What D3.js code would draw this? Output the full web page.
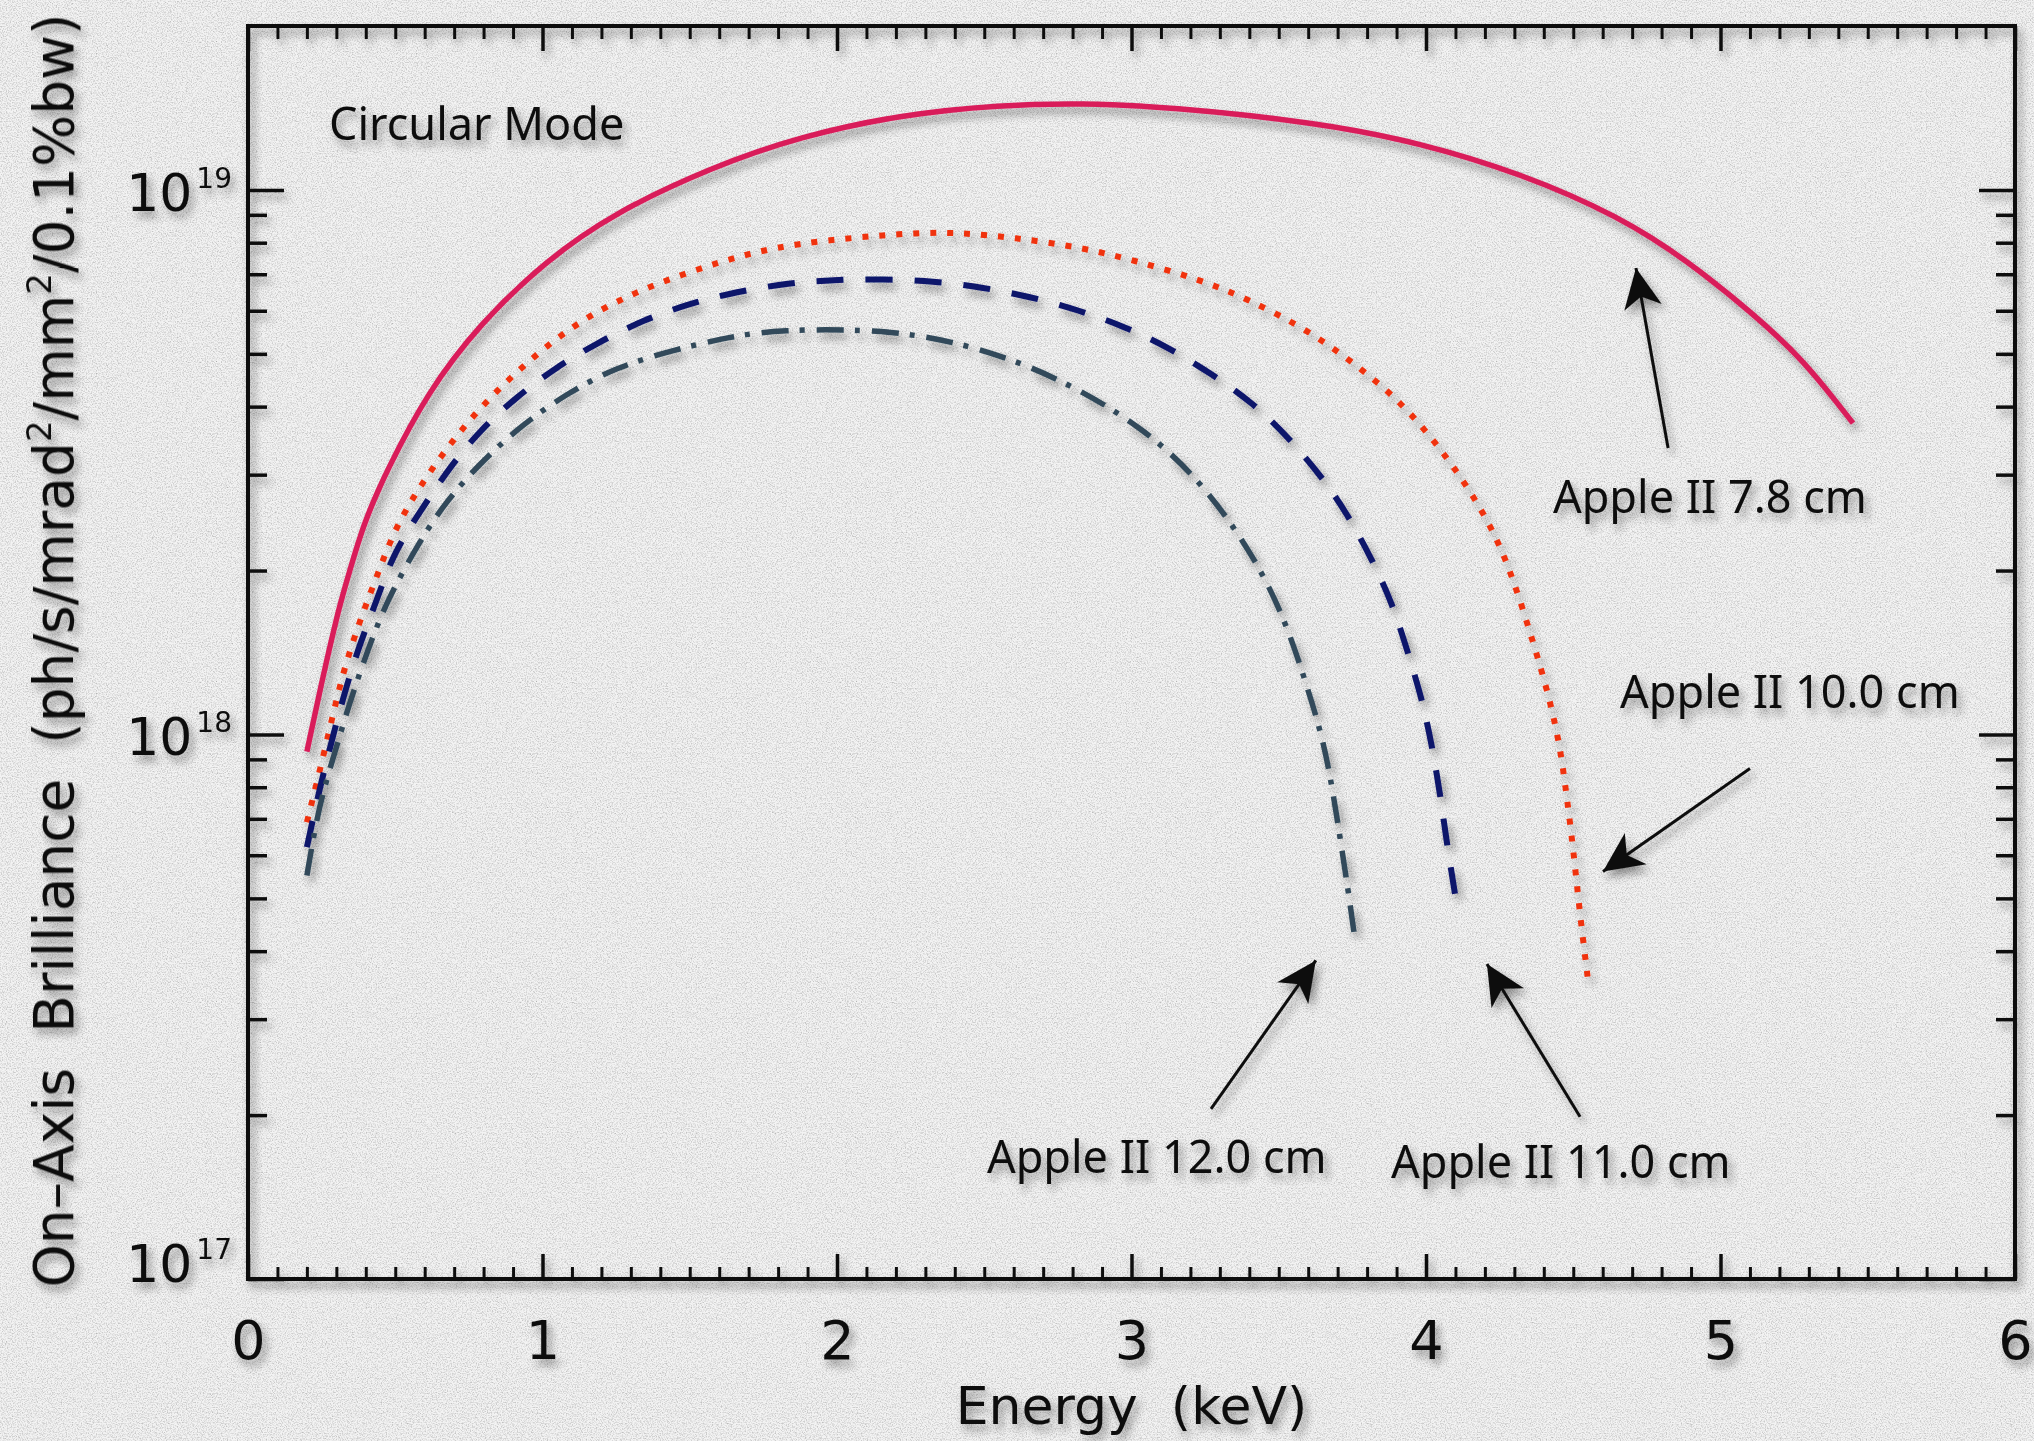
<!DOCTYPE html>
<html>
<head>
<meta charset="utf-8">
<script src="https://cdn.jsdelivr.net/npm/d3@7"></script>
<style>
  html, body { margin: 0; padding: 0; background: #ececec; }
  svg { display: block; }
</style>
</head>
<body>
<svg id="chart" width="2034" height="1441"></svg>
<script>
// ---- Data: on-axis brilliance of APPLE II undulators, circular mode ----
const seriesNames = ["Apple II 7.8 cm", "Apple II 10.0 cm", "Apple II 11.0 cm", "Apple II 12.0 cm"];

const energy78 = [0.2, 0.256, 0.307, 0.324, 0.391, 0.471, 0.607, 0.788, 1.014, 1.240, 1.580, 1.874, 2.214, 2.554, 2.835, 3.120, 3.640, 3.980, 4.319, 4.659, 4.885, 5.111, 5.281, 5.406, 5.450];
const bril78   = [9.3e17, 1.29e18, 1.69e18, 1.82e18, 2.44e18, 3.05e18, 4.23e18, 5.69e18, 7.43e18, 9.06e18, 1.104e19, 1.253e19, 1.374e19, 1.433e19, 1.443e19, 1.422e19, 1.328e19, 1.22e19, 1.074e19, 8.93e18, 7.43e18, 5.93e18, 4.87e18, 4.0e18, 3.73e18];

const energy100 = [0.2, 0.244, 0.284, 0.324, 0.380, 0.442, 0.505, 0.629, 0.777, 0.946, 1.127, 1.337, 1.614, 1.840, 2.248, 2.418, 2.599, 2.836, 3.006, 3.227, 3.391, 3.600, 3.787, 3.923, 4.036, 4.138, 4.229, 4.297, 4.365, 4.415, 4.455, 4.478, 4.500, 4.523, 4.551];
const bril100   = [6.9e17, 8.59e17, 1.06e18, 1.31e18, 1.62e18, 1.98e18, 2.44e18, 3.12e18, 3.94e18, 4.83e18, 5.77e18, 6.59e18, 7.43e18, 7.98e18, 8.35e18, 8.35e18, 8.18e18, 7.83e18, 7.43e18, 6.86e18, 6.32e18, 5.53e18, 4.67e18, 4.03e18, 3.42e18, 2.87e18, 2.37e18, 1.93e18, 1.47e18, 1.19e18, 9.55e17, 7.68e17, 6.17e17, 4.65e17, 3.51e17];

const energy110 = [0.2, 0.244, 0.290, 0.329, 0.380, 0.442, 0.493, 0.595, 0.686, 0.788, 0.912, 1.048, 1.184, 1.342, 1.501, 1.659, 1.829, 1.987, 2.157, 2.327, 2.491, 2.655, 2.819, 2.978, 3.131, 3.278, 3.408, 3.532, 3.651, 3.731, 3.816, 3.884, 3.934, 3.985, 4.019, 4.048, 4.070, 4.104];
const bril110   = [6.21e17, 8.0e17, 1.0e18, 1.2e18, 1.47e18, 1.79e18, 2.15e18, 2.62e18, 3.10e18, 3.62e18, 4.17e18, 4.73e18, 5.23e18, 5.77e18, 6.19e18, 6.50e18, 6.74e18, 6.84e18, 6.86e18, 6.80e18, 6.63e18, 6.37e18, 6.02e18, 5.61e18, 5.12e18, 4.57e18, 4.08e18, 3.52e18, 2.95e18, 2.55e18, 2.10e18, 1.75e18, 1.44e18, 1.17e18, 9.62e17, 7.78e17, 6.34e17, 4.88e17];

const energy120 = [0.2, 0.228, 0.256, 0.290, 0.346, 0.409, 0.471, 0.584, 0.675, 0.788, 0.924, 1.082, 1.252, 1.444, 1.637, 1.807, 2.101, 2.282, 2.463, 2.644, 2.814, 2.978, 3.125, 3.255, 3.368, 3.465, 3.538, 3.595, 3.652, 3.686, 3.714, 3.742, 3.758];
const bril120   = [5.51e17, 6.76e17, 7.89e17, 9.08e17, 1.15e18, 1.44e18, 1.76e18, 2.27e18, 2.69e18, 3.15e18, 3.68e18, 4.23e18, 4.73e18, 5.08e18, 5.38e18, 5.54e18, 5.54e18, 5.41e18, 5.15e18, 4.77e18, 4.32e18, 3.83e18, 3.33e18, 2.81e18, 2.32e18, 1.89e18, 1.53e18, 1.23e18, 9.75e17, 7.73e17, 6.17e17, 4.90e17, 4.23e17];

// Axis ticks
const xTickValues = [0, 1, 2, 3, 4, 5, 6];
const xTickLabels = ["0", "1", "2", "3", "4", "5", "6"];
const yTickValues = [1e17, 1e18, 1e19];
const yTickExponents = ["17", "18", "19"];

// Text annotations (data coordinates of the label baseline start)
const noteText   = ["Circular Mode", "Apple II 7.8 cm", "Apple II 10.0 cm", "Apple II 11.0 cm", "Apple II 12.0 cm"];
const noteEnergy = [0.275, 4.431, 4.659, 3.881, 2.509];
const noteBrill  = [1.236e19, 2.547e18, 1.117e18, 1.535e17, 1.567e17];

// Pointer arrows (tail -> tip), data coordinates
const arrowFromE = [4.822, 5.100, 4.523, 3.270];
const arrowFromB = [3.357e18, 8.66e17, 1.986e17, 2.053e17];
const arrowToE   = [4.713, 4.601, 4.207, 3.626];
const arrowToB   = [7.19e18, 5.60e17, 3.79e17, 3.846e17];

// ---- Layout ----
const W = 2034, H = 1441;
const plotL = 248, plotR = 2015, plotT = 26, plotB = 1279;

const x = d3.scaleLinear().domain([0, 6]).range([plotL, plotR]);
const y = d3.scaleLog().domain([1e17, 2e19]).range([plotB, plotT]);

const svg = d3.select("#chart").attr("viewBox", `0 0 ${W} ${H}`);
const defs = svg.append("defs");

// Paper grain for the background
const paper = defs.append("filter").attr("id", "paper")
  .attr("x", 0).attr("y", 0).attr("width", "100%").attr("height", "100%");
paper.append("feTurbulence").attr("type", "fractalNoise")
  .attr("baseFrequency", "0.8").attr("numOctaves", 3).attr("seed", 7).attr("stitchTiles", "stitch");
paper.append("feColorMatrix").attr("type", "matrix")
  .attr("values", "0 0 0 0 0  0 0 0 0 0  0 0 0 0 0  0.5 0 0 0 -0.21");

// Soft drop shadow under every drawn element
const sh = defs.append("filter").attr("id", "shadow")
  .attr("filterUnits", "userSpaceOnUse")
  .attr("x", 0).attr("y", 0).attr("width", W).attr("height", H);
sh.append("feGaussianBlur").attr("in", "SourceAlpha").attr("stdDeviation", 4).attr("result", "blur");
sh.append("feOffset").attr("in", "blur").attr("dx", 4).attr("dy", 6).attr("result", "off");
sh.append("feComponentTransfer").attr("in", "off").attr("result", "shade")
  .append("feFuncA").attr("type", "linear").attr("slope", 0.4);
const merge = sh.append("feMerge");
merge.append("feMergeNode").attr("in", "shade");
merge.append("feMergeNode").attr("in", "SourceGraphic");

// Barbed arrowhead
defs.append("marker").attr("id", "arrowhead")
  .attr("markerUnits", "userSpaceOnUse")
  .attr("viewBox", "-44 -22 48 44")
  .attr("markerWidth", 48).attr("markerHeight", 44)
  .attr("refX", 0).attr("refY", 0)
  .attr("orient", "auto")
  .append("path")
  .attr("d", "M0,0 L-40,-19 L-29,0 L-40,19 Z")
  .attr("fill", "#0d0d0d");

// Background
svg.append("rect").attr("width", W).attr("height", H).attr("fill", "#f3f3f3");
svg.append("rect").attr("width", W).attr("height", H).attr("filter", "url(#paper)");

const g = svg.append("g").attr("filter", "url(#shadow)");

// ---- Axes (ticks point inward on all four sides) ----
const ink = "#111";
const axisFont = "'DejaVu Sans', sans-serif";

function styleAxis(sel, width) {
  sel.select(".domain").remove();
  sel.selectAll(".tick line").attr("stroke", ink).attr("stroke-width", width);
  return sel;
}

const xMinor = d3.range(1, 60).filter(i => i % 10 !== 0).map(i => i / 10);
const yMinor = [];
[1e17, 1e18].forEach(dec => { for (let k = 2; k <= 9; k++) yMinor.push(k * dec); });

// bottom
styleAxis(g.append("g").attr("transform", `translate(0,${plotB})`)
  .call(d3.axisBottom(x).tickValues(xMinor).tickSizeInner(-12).tickSizeOuter(0).tickFormat("")), 3);
const xAxisMajor = styleAxis(g.append("g").attr("transform", `translate(0,${plotB})`)
  .call(d3.axisBottom(x).tickValues(xTickValues).tickSizeInner(-25).tickSizeOuter(0)
    .tickPadding(42).tickFormat((d, i) => xTickLabels[i])), 3.5);
xAxisMajor.attr("font-family", axisFont).attr("font-size", 54);
xAxisMajor.selectAll(".tick text").attr("fill", ink);

// top
styleAxis(g.append("g").attr("transform", `translate(0,${plotT})`)
  .call(d3.axisTop(x).tickValues(xMinor).tickSizeInner(-13).tickSizeOuter(0).tickFormat("")), 3);
styleAxis(g.append("g").attr("transform", `translate(0,${plotT})`)
  .call(d3.axisTop(x).tickValues(xTickValues).tickSizeInner(-25).tickSizeOuter(0).tickFormat("")), 3.5);

// left
styleAxis(g.append("g").attr("transform", `translate(${plotL},0)`)
  .call(d3.axisLeft(y).tickValues(yMinor).tickSizeInner(-19).tickSizeOuter(0).tickFormat("")), 3.5);
styleAxis(g.append("g").attr("transform", `translate(${plotL},0)`)
  .call(d3.axisLeft(y).tickValues(yTickValues).tickSizeInner(-36).tickSizeOuter(0).tickFormat("")), 3.5);

// right
styleAxis(g.append("g").attr("transform", `translate(${plotR},0)`)
  .call(d3.axisRight(y).tickValues(yMinor).tickSizeInner(-19).tickSizeOuter(0).tickFormat("")), 3.5);
styleAxis(g.append("g").attr("transform", `translate(${plotR},0)`)
  .call(d3.axisRight(y).tickValues(yTickValues).tickSizeInner(-36).tickSizeOuter(0).tickFormat("")), 3.5);

// frame
g.append("rect")
  .attr("x", plotL).attr("y", plotT)
  .attr("width", plotR - plotL).attr("height", plotB - plotT)
  .attr("fill", "none").attr("stroke", ink).attr("stroke-width", 4);

// y tick labels: 10 with superscript exponent
const yLabels = g.append("g").attr("font-family", axisFont).attr("fill", ink).attr("text-anchor", "end");
yTickValues.forEach((v, i) => {
  const base = (i === 0) ? y(v) + 3 : y(v) + 21;
  const t = yLabels.append("text").attr("x", plotL - 16).attr("y", base);
  t.append("tspan").attr("font-size", 52).text("10");
  t.append("tspan").attr("font-size", 28).attr("dx", 4).attr("dy", -23).text(yTickExponents[i]);
});

// axis titles
g.append("text")
  .attr("x", (plotL + plotR) / 2).attr("y", 1424)
  .attr("text-anchor", "middle")
  .attr("font-family", axisFont).attr("font-size", 52).attr("fill", ink)
  .style("white-space", "pre")
  .text("Energy  (keV)");

const yTitle = g.append("text")
  .attr("transform", `translate(73,${(plotT + plotB) / 2 - 2}) rotate(-90)`)
  .attr("text-anchor", "middle")
  .attr("font-family", axisFont).attr("font-size", 55).attr("fill", ink)
  .style("white-space", "pre");
yTitle.append("tspan").text("On\u2013Axis  Brilliance  (ph/s/mrad");
yTitle.append("tspan").attr("font-size", 34).attr("dy", -22).text("2");
yTitle.append("tspan").attr("dy", 22).text("/mm");
yTitle.append("tspan").attr("font-size", 34).attr("dy", -22).text("2");
yTitle.append("tspan").attr("dy", 22).text("/0.1%bw)");

// ---- Curves ----
const line = d3.line()
  .x(d => x(d[0]))
  .y(d => y(d[1]))
  .curve(d3.curveBasis);

const series = [
  { name: seriesNames[0], pts: d3.zip(energy78, bril78),   color: "#d91c5a", width: 5.5, dash: null },
  { name: seriesNames[1], pts: d3.zip(energy100, bril100), color: "#f0320f", width: 6,   dash: "6 11" },
  { name: seriesNames[2], pts: d3.zip(energy110, bril110), color: "#0b136b", width: 6,   dash: "27 22" },
  { name: seriesNames[3], pts: d3.zip(energy120, bril120), color: "#30495a", width: 5.5, dash: "27 11 5 12" }
];

g.append("g").selectAll("path")
  .data(series)
  .join("path")
  .attr("d", s => line(s.pts))
  .attr("fill", "none")
  .attr("stroke", s => s.color)
  .attr("stroke-width", s => s.width)
  .attr("stroke-linecap", "butt")
  .attr("stroke-dasharray", s => s.dash);

// ---- Annotations ----
const noteFont = "'Noto Sans', 'Open Sans', sans-serif";
g.append("g").selectAll("text")
  .data(noteText)
  .join("text")
  .attr("x", (d, i) => x(noteEnergy[i]))
  .attr("y", (d, i) => y(noteBrill[i]))
  .attr("font-family", noteFont)
  .attr("font-size", 45)
  .attr("fill", "#0d0d0d")
  .text(d => d);

g.append("g").selectAll("line")
  .data(arrowFromE)
  .join("line")
  .attr("x1", (d, i) => x(arrowFromE[i]))
  .attr("y1", (d, i) => y(arrowFromB[i]))
  .attr("x2", (d, i) => x(arrowToE[i]))
  .attr("y2", (d, i) => y(arrowToB[i]))
  .attr("stroke", "#0d0d0d")
  .attr("stroke-width", 3)
  .attr("marker-end", "url(#arrowhead)");
</script>
</body>
</html>
